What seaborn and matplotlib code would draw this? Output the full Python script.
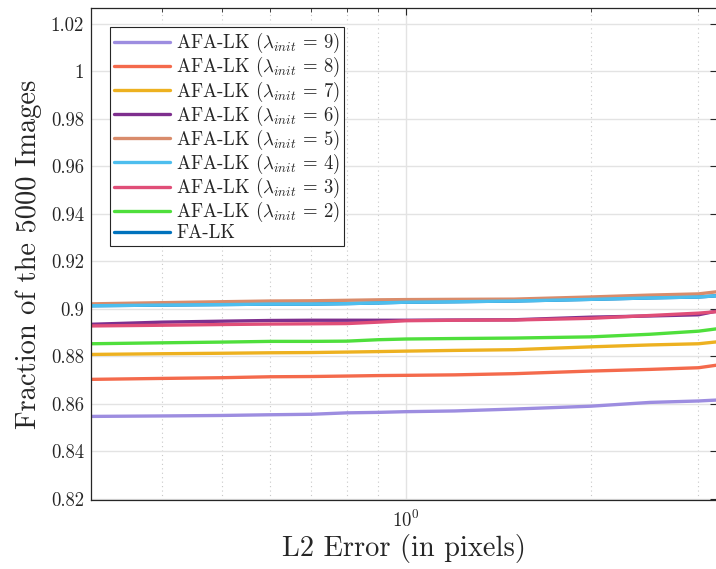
import numpy as np
import pandas as pd
import seaborn as sns
import matplotlib
matplotlib.use("Agg")
import matplotlib.pyplot as plt
from matplotlib.ticker import FixedLocator, NullFormatter, LogFormatterSciNotation

sns.set_style("white")
plt.rcParams['font.family'] = ['cmr10', 'DejaVu Serif']
plt.rcParams['mathtext.fontset'] = 'cm'
plt.rcParams['axes.unicode_minus'] = False
plt.rcParams['axes.formatter.use_mathtext'] = True

err = [0.306, 0.4, 0.5, 0.6, 0.7, 0.8, 0.9, 1.0, 1.2, 1.5, 2.0, 2.5, 3.0, 3.216]

lam9 = [0.8547, 0.8549, 0.8551, 0.8554, 0.8556, 0.8562, 0.8564, 0.8567, 0.8570, 0.8578, 0.8590, 0.8606, 0.8612, 0.8616]
lam8 = [0.8703, 0.8707, 0.8710, 0.8714, 0.8715, 0.8717, 0.8719, 0.8720, 0.8722, 0.8727, 0.8738, 0.8745, 0.8752, 0.8763]
lam7 = [0.8808, 0.8811, 0.8813, 0.8815, 0.8816, 0.8818, 0.8820, 0.8822, 0.8825, 0.8828, 0.8840, 0.8848, 0.8853, 0.8861]
lam6 = [0.8935, 0.8944, 0.8948, 0.8951, 0.8952, 0.8952, 0.8952, 0.8952, 0.8953, 0.8954, 0.8965, 0.8970, 0.8975, 0.8991]
lam5 = [0.9021, 0.9026, 0.9030, 0.9033, 0.9034, 0.9036, 0.9038, 0.9039, 0.9040, 0.9041, 0.9050, 0.9058, 0.9063, 0.9072]
lam4 = [0.9013, 0.9016, 0.9018, 0.9020, 0.9020, 0.9022, 0.9025, 0.9028, 0.9030, 0.9033, 0.9040, 0.9046, 0.9050, 0.9055]
lam3 = [0.8928, 0.8931, 0.8934, 0.8936, 0.8937, 0.8938, 0.8944, 0.8950, 0.8952, 0.8953, 0.8960, 0.8972, 0.8982, 0.8988]
lam2 = [0.8853, 0.8857, 0.8860, 0.8863, 0.8863, 0.8864, 0.8870, 0.8873, 0.8875, 0.8877, 0.8882, 0.8893, 0.8906, 0.8916]
# FA-LK is hidden under the lambda=4 curve in the picture
falk = [0.9013, 0.9016, 0.9018, 0.9020, 0.9020, 0.9022, 0.9025, 0.9028, 0.9030, 0.9033, 0.9040, 0.9046, 0.9050, 0.9055]

labels = [r'AFA-LK ($\lambda_{init}$ = 9)', r'AFA-LK ($\lambda_{init}$ = 8)',
          r'AFA-LK ($\lambda_{init}$ = 7)', r'AFA-LK ($\lambda_{init}$ = 6)',
          r'AFA-LK ($\lambda_{init}$ = 5)', r'AFA-LK ($\lambda_{init}$ = 4)',
          r'AFA-LK ($\lambda_{init}$ = 3)', r'AFA-LK ($\lambda_{init}$ = 2)', 'FA-LK']
series = [lam9, lam8, lam7, lam6, lam5, lam4, lam3, lam2, falk]
colors = ['#9d8de0', '#f46a4c', '#edb120', '#7e2f8e', '#d98c6b',
          '#4dbeee', '#e04e78', '#4fdf3c', '#0072bd']

yticks = [0.82, 0.84, 0.86, 0.88, 0.9, 0.92, 0.94, 0.96, 0.98, 1.0, 1.02]

fig = plt.figure(figsize=(7.16, 5.69), dpi=100)
ax = fig.add_axes([91/716, 1-500/569, 626/716, 492/569])

for lab, vals, col in zip(labels, series, colors):
    df = pd.DataFrame({'err': err, 'frac': vals})
    z = 1 if lab == 'FA-LK' else 2
    sns.lineplot(data=df, x='err', y='frac', color=col, linewidth=2.4,
                 label=lab, ax=ax, zorder=z)

ax.set_xscale('log')
ax.set_xlim(0.306, 3.216)
ax.set_ylim(0.8195, 1.0267)
ax.set_yticks(yticks)
ax.set_yticklabels(['%g' % t for t in yticks])
ax.xaxis.set_major_locator(FixedLocator([1.0]))
ax.xaxis.set_major_formatter(LogFormatterSciNotation())
ax.xaxis.set_minor_locator(FixedLocator([0.4, 0.5, 0.6, 0.7, 0.8, 0.9, 2, 3]))
ax.xaxis.set_minor_formatter(NullFormatter())

ax.grid(True, which='major', color='#e3e3e3', linewidth=1.0, linestyle='-')
ax.grid(True, which='minor', axis='x', color='#c8c8c8', linewidth=0.8, linestyle=(0, (1, 3)))
ax.set_axisbelow(True)

ax.tick_params(which='both', direction='in', top=True, right=True,
               color='#262626', labelsize=13.5, labelcolor='#262626')
ax.tick_params(which='major', length=5, width=0.8)
ax.tick_params(which='minor', length=3, width=0.6)
ax.tick_params(axis='y', pad=5)
ax.tick_params(axis='x', pad=7)
for s in ax.spines.values():
    s.set_color('#262626')
    s.set_linewidth(0.9)

ax.set_xlabel('L2 Error (in pixels)', fontsize=20.5, color='#262626', labelpad=2)
ax.set_ylabel('Fraction of the 5000 Images', fontsize=20.5, color='#262626', labelpad=6)

leg = ax.legend(loc='upper left', bbox_to_anchor=(19/626, 1-19/492), fontsize=13.5,
                frameon=True, fancybox=False, framealpha=1, edgecolor='#262626',
                handlelength=3.0, handletextpad=0.3, labelspacing=0.0,
                borderpad=0.22, borderaxespad=0)
leg.get_frame().set_linewidth(0.8)

fig.savefig('out.png', dpi=100)
